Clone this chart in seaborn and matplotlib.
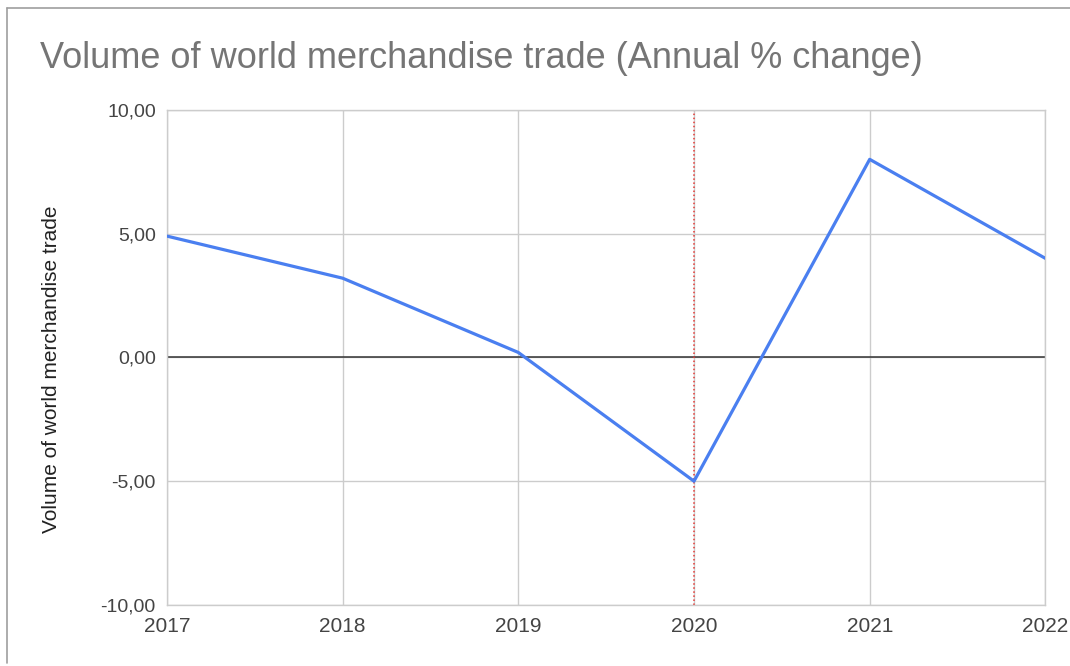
#!/usr/bin/env python3

import matplotlib

matplotlib.use("Agg")

import matplotlib.pyplot as plt
import pandas as pd
import seaborn as sns

from matplotlib.lines import Line2D
from matplotlib.ticker import FuncFormatter

# data
years = [2017, 2018, 2019, 2020, 2021, 2022]
trade_change = [4.9, 3.2, 0.2, -5.0, 8.0, 4.0]
highlight_year = 2020
y_ticks = [-10, -5, 0, 5, 10]

title = "Volume of world merchandise trade (Annual % change)"
y_label = "Volume of world merchandise trade"

df = pd.DataFrame({"Year": years, "Change": trade_change})

sns.set_style("white")
plt.rcParams["font.family"] = ["Liberation Sans", "DejaVu Sans"]

fig = plt.figure(figsize=(10.7, 6.66), dpi=100)
ax = fig.add_axes([0.156, 0.0916, 0.821, 0.7435])

grid_color = "#cccccc"
ax.set_xticks(years)
ax.set_yticks(y_ticks)
ax.grid(True, color=grid_color, linewidth=1)
ax.set_axisbelow(True)

ax.axhline(0, color="#333333", linewidth=1.1, zorder=1)
ax.axvline(highlight_year, color="#e53935", linewidth=1.1, linestyle=":", zorder=2)

sns.lineplot(data=df, x="Year", y="Change", ax=ax, color="#4a7ff0", linewidth=2.3, zorder=3)

ax.set_xlim(years[0], years[-1])
ax.set_ylim(y_ticks[0], y_ticks[-1])

for s in ax.spines.values():
    s.set_color(grid_color)
    s.set_linewidth(1)

ax.yaxis.set_major_formatter(FuncFormatter(lambda v, _: "{:.2f}".format(v).replace(".", ",")))
ax.tick_params(axis="both", length=0, labelcolor="#444444")
ax.tick_params(axis="y", pad=8, labelsize=14)
ax.tick_params(axis="x", pad=9, labelsize=15)

ax.set_xlabel("")
ax.set_ylabel(y_label, fontsize=15, color="#222222")
ax.yaxis.set_label_coords(-0.121, 0.476)

fig.text(40 / 1070, 1 - 68 / 666, title, fontsize=26, color="#757575", ha="left", va="baseline")

# outer frame of the screenshot
frame = "#9e9e9e"
fig.add_artist(Line2D([7 / 1070, 1.0], [1 - 8 / 666, 1 - 8 / 666], color=frame, linewidth=1.2))
fig.add_artist(Line2D([7 / 1070, 7 / 1070], [1 - 8 / 666, 1 - 663 / 666], color=frame, linewidth=1.2))

plt.savefig("out.png", dpi=100)
